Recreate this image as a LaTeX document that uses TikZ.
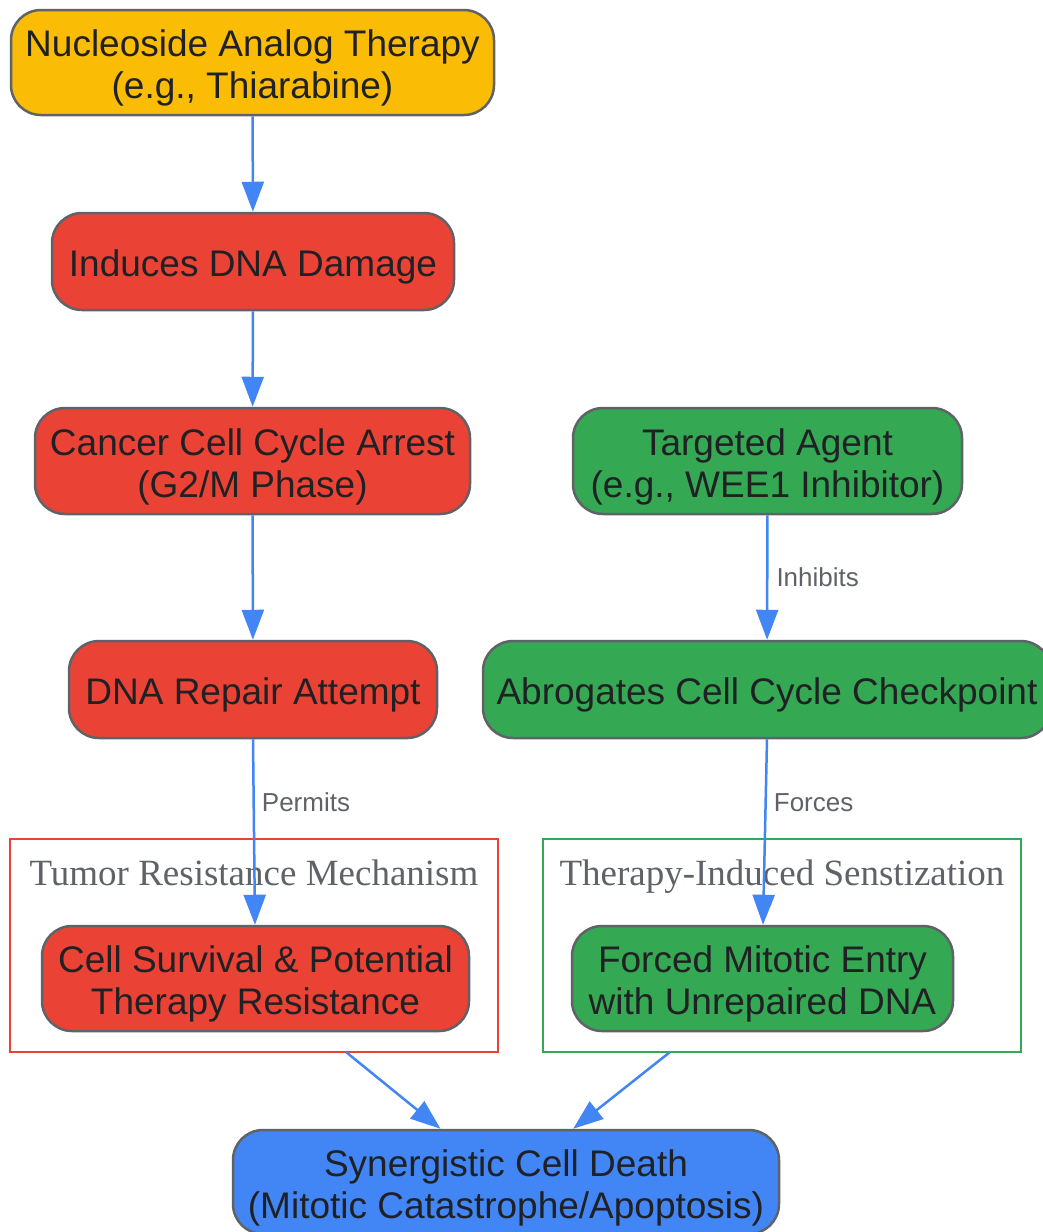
\documentclass[tikz,border=0pt]{standalone}
\usepackage{fontspec}
\setmainfont{Liberation Sans}
\newfontfamily\titlefont{Liberation Serif}
\usetikzlibrary{arrows.meta}
\definecolor{gyellow}{HTML}{FBBC05}
\definecolor{gred}{HTML}{EA4335}
\definecolor{ggreen}{HTML}{34A853}
\definecolor{gblue}{HTML}{4285F4}
\definecolor{gborder}{HTML}{5F6368}
\definecolor{gtext}{HTML}{202124}
% centred lines, lowered a little to sit like the chart
\newcommand{\boxtext}[1]{\raisebox{-7pt}[\height][\depth]{\begin{tabular}{@{}c@{}}#1\end{tabular}}}
\begin{document}
\begin{tikzpicture}[x=1pt, y=-1pt,
	box/.style={draw=gborder, line width=2.5pt, rounded corners=30pt,
		text=gtext, font=\fontsize{37}{42}\selectfont, inner sep=0pt},
	flow/.style={draw=gblue, line width=2.5pt, -{Triangle[length=30pt,width=22pt]}},
	edgelabel/.style={text=gborder, font=\fontsize{26}{30}\selectfont, anchor=west, inner sep=2pt},
	cluster/.style={line width=2.5pt, fill=white},
	clustertitle/.style={text=gborder, font=\titlefont\fontsize{37}{42}\selectfont, anchor=base}]
	\useasboundingbox (0,0) rectangle (1043,1232);
	%clusters
	\draw[cluster, draw=gred] (10,839) rectangle (498,1052);
	\node[clustertitle] (resisttitle) at (254,885) {Tumor Resistance Mechanism};
	\coordinate (resistout) at (346,1052);
	\draw[cluster, draw=ggreen] (543,839) rectangle (1021,1052);
	\node[clustertitle] (senstitle) at (782,885) {Therapy-Induced Senstization};
	\coordinate (sensout) at (670,1052);
	%nodes
	\node[box, fill=gyellow, minimum width=483pt, minimum height=105pt] (therapy) at (252.5,62.5)
		{\boxtext{Nucleoside Analog Therapy\\(e.g., Thiarabine)}};
	\node[box, fill=gred, minimum width=402pt, minimum height=97pt] (damage) at (253,261.5)
		{\boxtext{Induces DNA Damage}};
	\node[box, fill=gred, minimum width=435pt, minimum height=106pt] (arrest) at (252.5,461)
		{\boxtext{Cancer Cell Cycle Arrest\\(G2/M Phase)}};
	\node[box, fill=ggreen, minimum width=389pt, minimum height=106pt] (agent) at (767.5,461)
		{\boxtext{Targeted Agent\\(e.g., WEE1 Inhibitor)}};
	\node[box, fill=gred, minimum width=368pt, minimum height=97pt] (repair) at (253,689.5)
		{\boxtext{DNA Repair Attempt}};
	\node[box, fill=ggreen, minimum width=568pt, minimum height=97pt] (abrogate) at (767,689.5)
		{\boxtext{Abrogates Cell Cycle Checkpoint}};
	\node[box, fill=gred, minimum width=427pt, minimum height=105pt] (survival) at (255.5,978.5)
		{\boxtext{Cell Survival \& Potential\\Therapy Resistance}};
	\node[box, fill=ggreen, minimum width=381pt, minimum height=105pt] (mitotic) at (762.5,978.5)
		{\boxtext{Forced Mitotic Entry\\with Unrepaired DNA}};
	\node[box, fill=gblue, minimum width=546pt, minimum height=104pt] (death) at (506,1182)
		{\boxtext{Synergistic Cell Death\\(Mitotic Catastrophe/Apoptosis)}};
	%edges
	\draw[flow] (therapy) -- (damage);
	\draw[flow] (damage) -- (arrest);
	\draw[flow] (arrest) -- (repair);
	\draw[flow] (repair.south) -- (survival.north -| 255,0)
		node[edgelabel, pos=0.34, xshift=5pt] {Permits};
	\draw[flow] (agent) -- (abrogate)
		node[edgelabel, pos=0.5, xshift=6pt] {Inhibits};
	\draw[flow] (abrogate.south) -- (mitotic.north -| 763,0)
		node[edgelabel, pos=0.34, xshift=5pt] {Forces};
	\draw[flow] (resistout) -- (death);
	\draw[flow] (sensout) -- (death);
\end{tikzpicture}
\end{document}
